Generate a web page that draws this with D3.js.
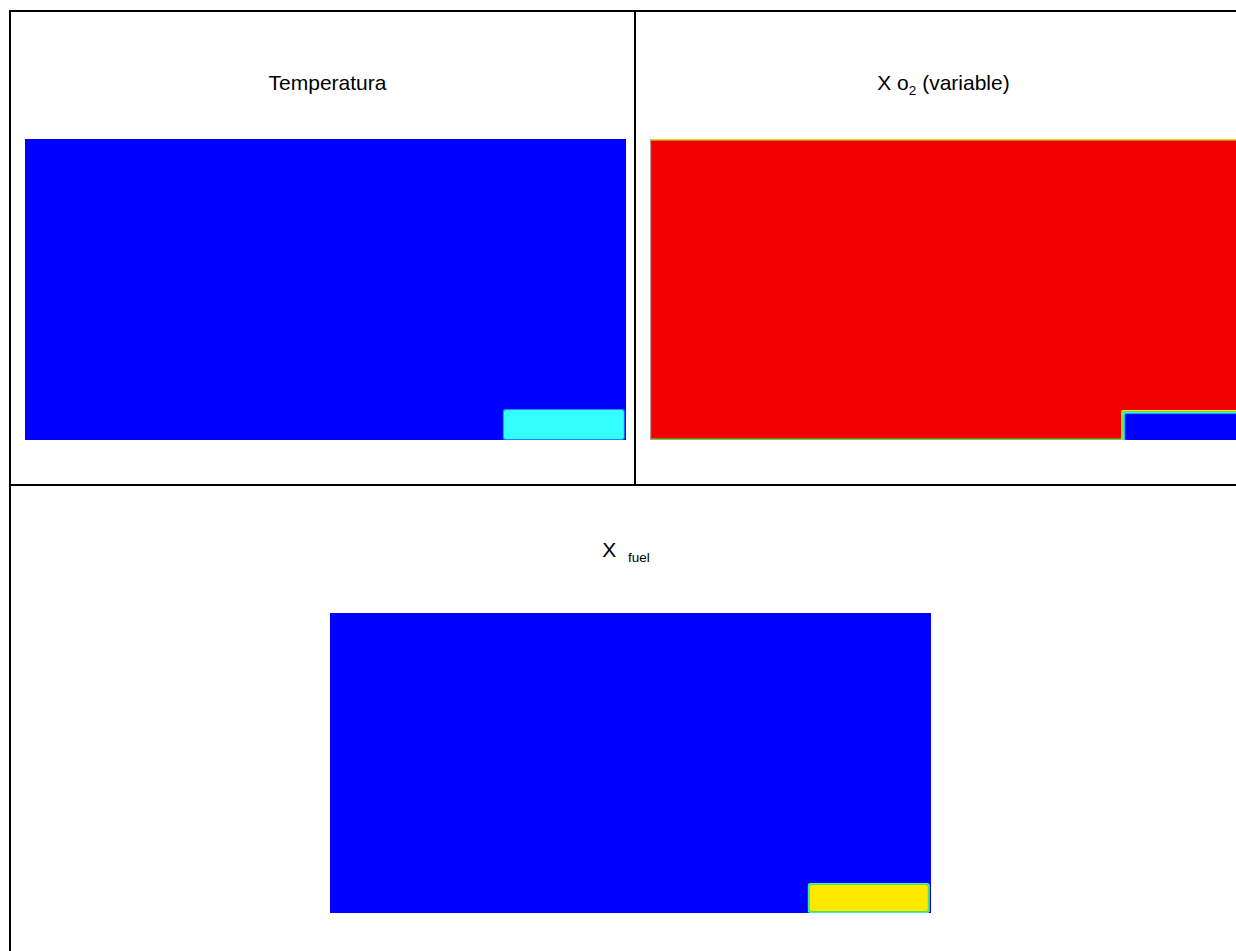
<!DOCTYPE html>
<html>
<head>
<meta charset="utf-8">
<script src="https://cdn.jsdelivr.net/npm/d3@7"></script>
<style>
  html, body { margin: 0; padding: 0; background: #ffffff; }
  svg { display: block; }
  text { font-family: "Liberation Sans", Arial, sans-serif; fill: #000; }
</style>
</head>
<body>
<svg id="chart" width="1236" height="951"></svg>
<script>
// Field titles: main symbol and subscript/suffix parts
const fieldNames   = ["Temperatura", "X", "X"];
const fieldSubs    = ["", "2", "fuel"];
const fieldPrefix  = ["", " o", "  "];
const fieldSuffix  = ["", " (variable)", ""];

// Normalised field value (0..1 on the contour colour map)
const ambientValue = [0.0, 1.0, 0.0];   // bulk of the domain
const inletValue   = [0.25, 0.0, 0.75]; // fuel inlet block, bottom right
// Thin mixing layers at the inlet edge, from the outside inward
const edgeValues   = [[0.13], [0.74, 0.52, 0.34, 0.16], [0.36, 0.48]];
// Inlet block extent, as fractions of the domain
const inletStart   = [0.795, 0.784, 0.795];
const inletEnd     = [0.998, 1.05, 0.998];
const inletHeight  = [0.103, 0.1, 0.1];

// Contour colour map: blue -> cyan -> green -> yellow -> red
const colorMap = d3.scaleLinear()
  .domain([0, 0.25, 0.5, 0.75, 1])
  .range(["#0000ff", "#33ffff", "#55dd44", "#ffe800", "#f00000"])
  .clamp(true);

const svg = d3.select("#chart");

// Table frame
const tbl = { left: 10, top: 11, mid: 635, right: 1252, row: 485, bottom: 990 };
const frame = svg.append("g").attr("stroke", "#000").attr("stroke-width", 2);
frame.append("line").attr("x1", tbl.left).attr("x2", tbl.left).attr("y1", tbl.top - 1).attr("y2", tbl.bottom);
frame.append("line").attr("x1", tbl.left - 1).attr("x2", tbl.right).attr("y1", tbl.top).attr("y2", tbl.top);
frame.append("line").attr("x1", tbl.right).attr("x2", tbl.right).attr("y1", tbl.top).attr("y2", tbl.bottom);
frame.append("line").attr("x1", tbl.mid).attr("x2", tbl.mid).attr("y1", tbl.top).attr("y2", tbl.row);
frame.append("line").attr("x1", tbl.left).attr("x2", tbl.right).attr("y1", tbl.row).attr("y2", tbl.row);

// Panel placement (domain box in pixels, title position)
const layout = [
  { x: 25,  y: 139, w: 601, h: 301, tx: (tbl.left + tbl.mid) / 2 + 5, ty: 90,  sides: "all" },
  { x: 650, y: 139, w: 601, h: 301, tx: (tbl.mid + tbl.right) / 2,    ty: 90,  sides: "topleft" },
  { x: 330, y: 613, w: 601, h: 300, tx: 626,                          ty: 557, sides: "all" }
];

const clip = svg.append("defs");

fieldNames.forEach((name, i) => {
  const L = layout[i];
  const g = svg.append("g");

  // Title
  const t = g.append("text")
    .attr("x", L.tx).attr("y", L.ty)
    .attr("text-anchor", "middle")
    .attr("xml:space", "preserve")
    .style("white-space", "pre")
    .attr("font-size", 21);
  t.append("tspan").text(name + fieldPrefix[i]);
  if (fieldSubs[i]) {
    t.append("tspan").attr("font-size", 13.5).attr("dy", 5).text(fieldSubs[i]);
    if (fieldSuffix[i]) t.append("tspan").attr("dy", -5).text(fieldSuffix[i]);
  }

  // Domain scales (fractions -> pixels), y measured from the bottom wall
  const xs = d3.scaleLinear().domain([0, 1]).range([L.x, L.x + L.w]);
  const ys = d3.scaleLinear().domain([0, 1]).range([L.y + L.h, L.y]);

  clip.append("clipPath").attr("id", "dom" + i)
    .append("rect").attr("x", L.x).attr("y", L.y).attr("width", L.w).attr("height", L.h);

  const field = g.append("g").attr("clip-path", `url(#dom${i})`);

  field.append("rect")
    .attr("x", xs(0)).attr("y", ys(1))
    .attr("width", xs(1) - xs(0)).attr("height", ys(0) - ys(1))
    .attr("fill", colorMap(ambientValue[i]));

  // Boundary traces along the walls of the oxidiser field
  if (i === 1) {
    field.append("rect").attr("x", xs(0)).attr("y", ys(1)).attr("width", L.w).attr("height", 1.5)
      .attr("fill", colorMap(0.68));
    field.append("rect").attr("x", xs(0)).attr("y", ys(0) - 1.5).attr("width", L.w).attr("height", 1.5)
      .attr("fill", colorMap(0.5));
    field.append("rect").attr("x", xs(0)).attr("y", ys(1)).attr("width", 1.2).attr("height", L.h)
      .attr("fill", "#c09090");
  }

  // Inlet block with its mixing layers
  const x0 = xs(inletStart[i]), x1 = xs(inletEnd[i]);
  const y0 = ys(inletHeight[i]), y1 = ys(0);
  const layers = edgeValues[i].concat([inletValue[i]]);
  layers.forEach((v, k) => {
    const insetR = L.sides === "all" ? k : 0;
    const insetB = L.sides === "all" ? k : 0;
    field.append("rect")
      .attr("x", x0 + k).attr("y", y0 + k)
      .attr("width", Math.max(0, x1 - x0 - k - insetR))
      .attr("height", Math.max(0, y1 - y0 - k - insetB))
      .attr("rx", L.sides === "all" ? 2.5 : 1.5)
      .attr("fill", colorMap(v));
  });
});
</script>
</body>
</html>
